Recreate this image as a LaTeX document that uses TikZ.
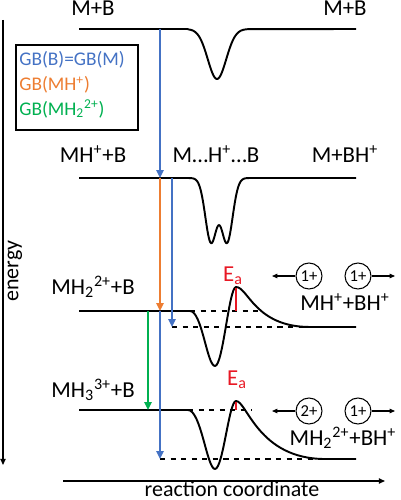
\documentclass[tikz,border=0pt]{standalone}
\usepackage{fontspec}
\setmainfont{Carlito}
\usetikzlibrary{arrows.meta}

\definecolor{gbblue}{RGB}{68,114,196}
\definecolor{gborange}{RGB}{237,125,49}
\definecolor{gbgreen}{RGB}{0,176,80}
\definecolor{eared}{RGB}{232,24,36}

\begin{document}
\begin{tikzpicture}[
    x=0.02cm, y=-0.02cm,
    species/.style={
        anchor=base,
        inner sep=0pt,
        font=\fontsize{13}{15}\selectfont
    },
    legend/.style={
        anchor=base west,
        inner sep=0pt,
        font=\fontsize{11}{13}\selectfont
    },
    surface/.style={
        line width=1.1pt,
        line join=round
    },
    guide/.style={
        dashed,
        line width=0.6pt
    },
    gbarrow/.style={
        line width=1.4pt,
        -{Triangle[length=4.5pt, width=4pt]}
    },
    ion/.style={
        circle,
        draw,
        line width=0.6pt,
        minimum size=0.52cm,
        inner sep=0pt,
        font=\fontsize{9.5}{10}\selectfont
    },
    away/.style={
        line width=0.6pt,
        -{Triangle[length=3pt, width=2.5pt]}
    },
    axisline/.style={
        line width=0.8pt,
        -{Triangle[length=3.5pt, width=3pt]}
    }
]

\useasboundingbox (0,0) rectangle (401,500);

% ========== AXES ==========

\coordinate (etop) at (3,20);
\coordinate (ebot) at (3,465);
\draw[axisline] (etop) -- (ebot);
\node[rotate=90, font=\fontsize{12.5}{14}\selectfont] (energy) at (15,271) {energy};

\coordinate (rleft) at (63,481);
\coordinate (rright) at (385,481);
\draw[axisline] (rleft) -- (rright);
\node[species, font=\fontsize{12.5}{14}\selectfont] (reaction) at (232,496) {reaction coordinate};

% ========== LEGEND ==========

\draw[line width=0.6pt] (16,45) rectangle (138,130);
\node[legend, text=gbblue] (gbb) at (19,66) {GB(B)=GB(M)};
\node[legend, text=gborange] (gbmh) at (19,91) {GB(MH\textsuperscript{+})};
\node[legend, text=gbgreen] (gbmh2) at (19,115) {GB(MH\textsubscript{2}\textsuperscript{2+})};

% ========== LEVEL 1: M+B ==========

\node[species] (mb) at (93,16) {M+B};
\node[species] (mbright) at (345,16) {M+B};
\draw[surface] (79,29) -- (188,29)
    -- plot[domain=188:248, samples=60] (\x, {29+50*exp(-((\x-217)/13)^2)})
    -- (356,29);

% ========== LEVEL 2: MH+ + B ==========

\node[species] (mhb) at (93,162) {MH\textsuperscript{+}+B};
\node[species] (complex) at (216,162) {M\ldots H\textsuperscript{+}\ldots B};
\node[species] (mbh) at (345,162) {M+BH\textsuperscript{+}};
\draw[surface] (79,178) -- (186,178)
    -- plot[domain=186:252, samples=90] (\x, {178+64*(exp(-((\x-211)/8)^2)+exp(-((\x-227)/8)^2))})
    -- (356,178);

% ========== LEVEL 3: MH2 2+ + B ==========

\node[species] (mh2b) at (93,294) {MH\textsubscript{2}\textsuperscript{2+}+B};
\draw[guide] (190,311) -- (258,311);
\draw[guide] (172,327) -- (356,327);
\draw[surface] (79,311) -- (190,311)
    .. controls (202,311) and (207,366) .. (215,366)
    .. controls (223,366) and (229,287) .. (236,287)
    .. controls (248,287) and (255,327) .. (310,327)
    -- (356,327);

\coordinate (ea1base) at (236,311);
\coordinate (ea1peak) at (236,288);
\draw[eared, line width=0.8pt] (ea1base) -- (ea1peak);
\node[species, text=eared] (ea1) at (233,281) {E\textsubscript{a}};

\node[ion] (ion1a) at (309,276) {1+};
\node[ion] (ion1b) at (358,276) {1+};
\coordinate (out1a) at (272,276);
\coordinate (out1b) at (395,276);
\draw[away] (ion1a) -- (out1a);
\draw[away] (ion1b) -- (out1b);
\node[species] (mhbh) at (345,310) {MH\textsuperscript{+}+BH\textsuperscript{+}};

% ========== LEVEL 4: MH3 3+ + B ==========

\node[species] (mh3b) at (93,397) {MH\textsubscript{3}\textsuperscript{3+}+B};
\draw[guide] (188,410) -- (252,410);
\draw[guide] (160,459) -- (356,459);
\draw[surface] (79,410) -- (188,410)
    .. controls (201,410) and (207,469) .. (215,469)
    .. controls (223,469) and (229,401) .. (236,401)
    .. controls (247,401) and (258,459) .. (325,459)
    -- (356,459);

\coordinate (ea2base) at (236,410);
\coordinate (ea2peak) at (236,402);
\draw[eared, line width=0.8pt] (ea2base) -- (ea2peak);
\node[species, text=eared] (ea2) at (237,385) {E\textsubscript{a}};

\node[ion] (ion2a) at (309,411) {2+};
\node[ion] (ion2b) at (358,411) {1+};
\coordinate (out2a) at (272,411);
\coordinate (out2b) at (395,411);
\draw[away] (ion2a) -- (out2a);
\draw[away] (ion2b) -- (out2b);
\node[species] (mh2bh) at (343,445) {MH\textsubscript{2}\textsuperscript{2+}+BH\textsuperscript{+}};

% ========== GAS-PHASE BASICITY ARROWS ==========

\coordinate (gb1top) at (160,29);
\coordinate (gb1bot) at (160,178);
\coordinate (gb2top) at (172,178);
\coordinate (gb2bot) at (172,327);
\coordinate (gb3top) at (160,311);
\coordinate (gb3bot) at (160,459);
\coordinate (gbotop) at (160,178);
\coordinate (gbobot) at (160,311);
\coordinate (gbgtop) at (148,311);
\coordinate (gbgbot) at (148,410);

\draw[gbarrow, gbblue] (gb1top) -- (gb1bot);
\draw[gbarrow, gbblue] (gb2top) -- (gb2bot);
\draw[gbarrow, gbblue] (gb3top) -- (gb3bot);
\draw[gbarrow, gborange] (gbotop) -- (gbobot);
\draw[gbarrow, gbgreen] (gbgtop) -- (gbgbot);

\end{tikzpicture}
\end{document}
